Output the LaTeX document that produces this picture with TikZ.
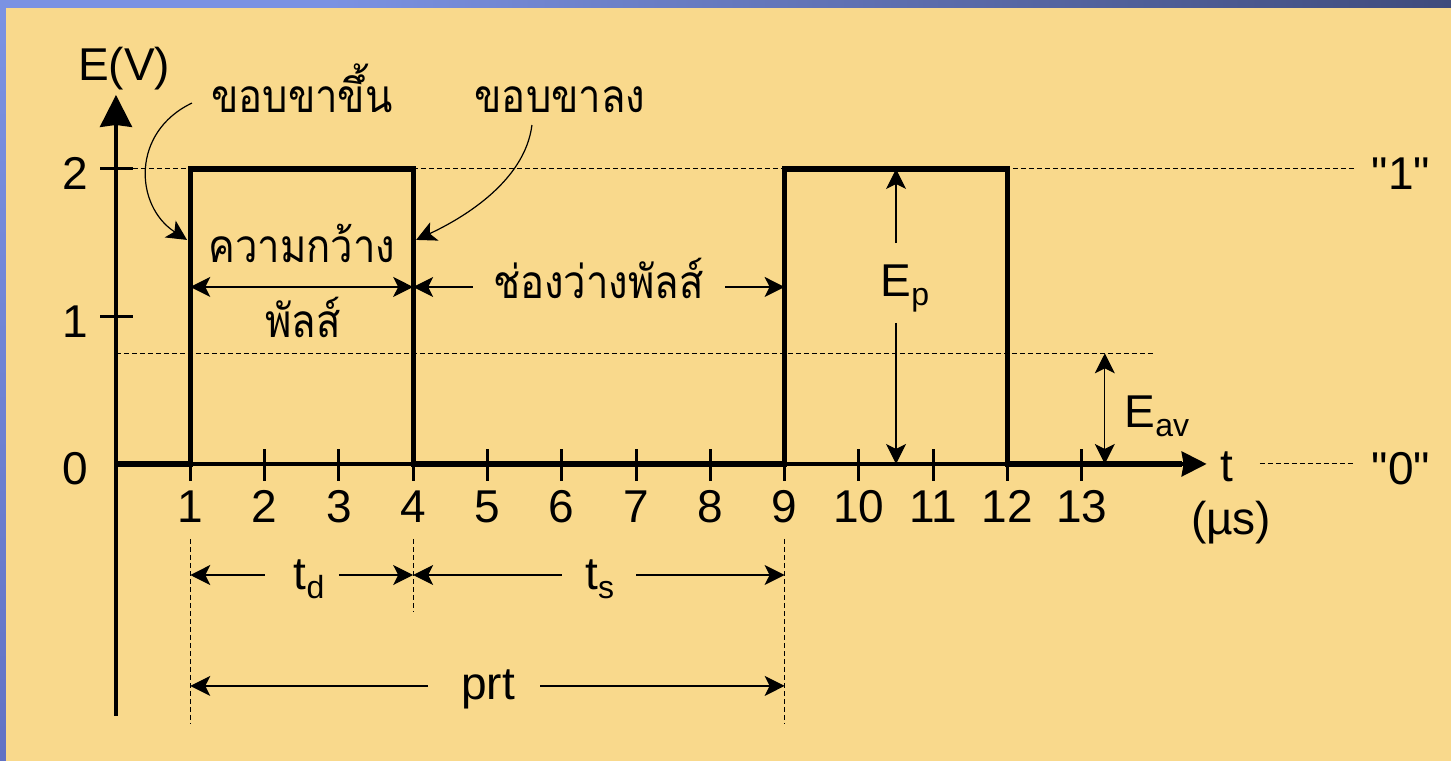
\documentclass[tikz,border=0pt]{standalone}
\usepackage{fontspec}
\setmainfont{Liberation Sans}
\newfontfamily\thaifont[Script=Thai,FakeStretch=0.87]{Loma}
\usetikzlibrary{arrows.meta}
\definecolor{slidebg}{HTML}{F9D98C}
\definecolor{barlight}{HTML}{7B92E2}
\definecolor{bardark}{HTML}{3F4B7C}
\definecolor{barlow}{HTML}{6272C4}
\newcommand{\lowtxt}[1]{\raisebox{-4.5pt}{\fontsize{16}{18}\selectfont #1}}

\begin{document}
\begin{tikzpicture}[x=37.15pt,y=73.75pt,
    font=\fontsize{23}{27}\selectfont,
    thai/.style={font=\thaifont\fontsize{23}{27}\selectfont},
    dim/.style={line width=0.6pt,-{Stealth[length=10pt,width=10pt,inset=2.5pt]}},
    dimboth/.style={line width=0.6pt,{Stealth[length=10pt,width=10pt,inset=2.5pt]}-{Stealth[length=10pt,width=10pt,inset=2.5pt]}},
    guide/.style={line width=0.5pt,dash pattern=on 2.5pt off 1.5pt},
    pulse/.style={line width=2.6pt,line join=miter}]
  % slide frame
  \useasboundingbox (-1.5612,-2.0136) rectangle (17.9697,3.1458);
  \fill[slidebg] (-1.5612,-2.0136) rectangle (17.9697,3.1458);
  \fill[barlight] (-1.5612,3.0915) rectangle (2.88,3.1458);
  \shade[left color=barlight,right color=bardark] (2.88,3.0915) rectangle (17.9697,3.1458);
  \shade[top color=barlight,bottom color=barlow] (-1.5612,-2.0136) rectangle (-1.4805,3.0915);

  % guide lines
  \draw[guide] (0.229,2) -- (16.70,2);
  \draw[guide] (0,0.75) -- (13.98,0.75);
  \draw[guide] (15.397,0) -- (16.676,0);
  \foreach \x/\y in {1/-1.756,4/-1.003,9/-1.756}
    \draw[guide] (\x,-0.508) -- (\x,\y);

  % axes
  \draw[line width=1.8pt,-{Stealth[length=16pt,width=16pt,inset=1pt]}] (0,-1.708) -- (0,2.502);
  \draw[line width=1.8pt,-{Stealth[length=12.5pt,width=12.5pt,inset=1pt]}] (0,0) -- (14.68,0);
  \foreach \t in {1,...,13}{
    \draw[line width=1.5pt] (\t,0.10) -- (\t,-0.115);
    \node[anchor=base] at (\t,-0.40) {\t};
  }
  \foreach \v in {0,1,2}
    \node[anchor=base] at (-0.55,\v-0.142) {\v};
  \foreach \v in {1,2}
    \draw[line width=1.5pt] (-0.215,\v) -- (0.229,\v);
  \node (ylab) at (0.108,2.681) {E(V)};
  \node[anchor=base] (tlab) at (14.95,-0.122) {t};
  \node[anchor=base] (unit) at (15.01,-0.481) {(µs)};
  \node[anchor=base] (one) at (17.295,1.858) {\textquotedbl 1\textquotedbl};
  \node[anchor=base] (zero) at (17.295,-0.142) {\textquotedbl 0\textquotedbl};

  % pulse train
  \draw[pulse] (0,0) -- (1,0) -- (1,2) -- (4,2) -- (4,0) -- (9,0) -- (9,2) -- (12,2) -- (12,0) -- (14.35,0);

  % edges
  \node[thai,anchor=base] (rise) at (2.503,2.380) {ขอบขาขึ้น};
  \node[thai,anchor=base] (fall) at (5.976,2.380) {ขอบขาลง};
  \coordinate (riseA) at (1.023,2.447);
  \coordinate (riseB) at (0.956,1.519);
  \coordinate (fallA) at (5.599,2.298);
  \coordinate (fallB) at (4.04,1.519);
  \draw[dim] (riseA) .. controls (0.2,2.25) and (0.25,1.75) .. (riseB);
  \draw[dim] (fallA) .. controls (5.5,1.9) and (4.6,1.65) .. (fallB);

  % pulse width and space
  \node[thai,anchor=base] (width) at (2.503,1.363) {ความกว้าง};
  \node[thai,anchor=base] (width2) at (2.517,0.854) {พัลส์};
  \coordinate (w1) at (1,1.2);
  \coordinate (w4) at (4,1.2);
  \draw[dimboth] (w1) -- (w4);
  \node[thai,anchor=base] (space) at (6.494,1.125) {ช่องว่างพัลส์};
  \coordinate (s4) at (4.805,1.2);
  \coordinate (s9) at (8.2,1.2);
  \draw[dim] (s4) -- (w4);
  \draw[dim] (s9) -- (9,1.2);

  % amplitudes
  \node[anchor=base] (ep) at (10.62,1.132) {E\lowtxt{p}};
  \coordinate (epT) at (10.5,2);
  \coordinate (epB) at (10.5,0);
  \draw[dim] (10.5,1.498) -- (epT);
  \draw[dim] (10.5,0.956) -- (epB);
  \node[anchor=base] (eav) at (14.01,0.244) {E\lowtxt{av}};
  \coordinate (avT) at (13.31,0.75);
  \coordinate (avB) at (13.31,0);
  \draw[dimboth] (avB) -- (avT);

  % timing
  \node[anchor=base] (td) at (2.60,-0.854) {t\lowtxt{d}};
  \node[anchor=base] (ts) at (6.51,-0.854) {t\lowtxt{s}};
  \node[anchor=base] (prt) at (5.01,-1.60) {prt};
  \coordinate (d1) at (1,-0.753);
  \coordinate (d4) at (4,-0.753);
  \coordinate (d9) at (9,-0.753);
  \draw[dim] (2.005,-0.753) -- (d1);
  \draw[dim] (3.0,-0.753) -- (d4);
  \draw[dim] (6.0,-0.753) -- (d4);
  \draw[dim] (7.0,-0.753) -- (d9);
  \coordinate (p1) at (1,-1.505);
  \coordinate (p9) at (9,-1.505);
  \draw[dim] (4.2,-1.505) -- (p1);
  \draw[dim] (5.71,-1.505) -- (p9);
\end{tikzpicture}
\end{document}
